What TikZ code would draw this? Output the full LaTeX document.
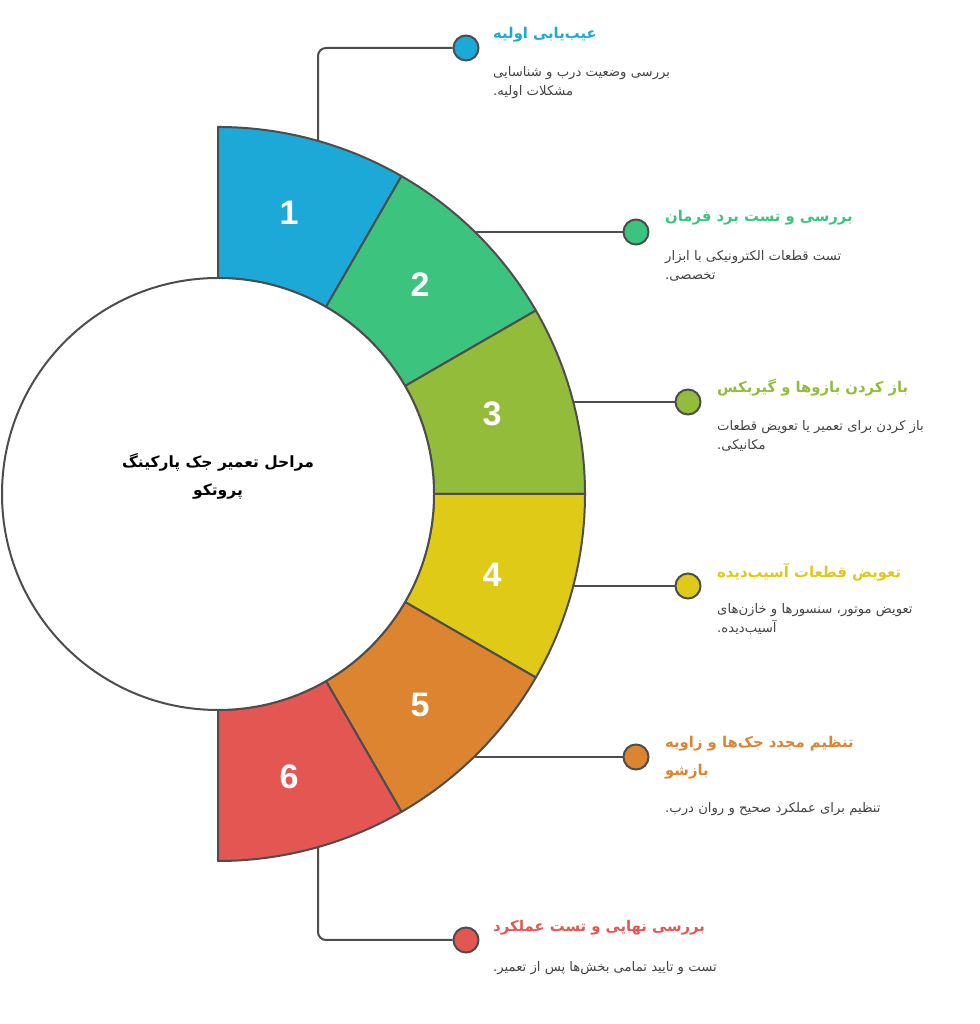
\documentclass[tikz,border=0pt]{standalone}
\usepackage{fontspec}
\setmainfont{Liberation Sans}
\newfontfamily\arabicfont[Script=Arabic]{DejaVu Sans}
\TeXXeTstate=1
\usetikzlibrary{calc}
\definecolor{cA}{HTML}{1DA9D8}
\definecolor{cB}{HTML}{3CC47F}
\definecolor{cC}{HTML}{93BC3B}
\definecolor{cD}{HTML}{DFCA17}
\definecolor{cE}{HTML}{DD8431}
\definecolor{cF}{HTML}{E35651}
\definecolor{edge}{HTML}{4D4D4D}
\definecolor{txt}{HTML}{444444}
\tikzset{
  seg/.style={draw=edge, line width=2pt, line join=round},
  num/.style={text=white, inner sep=0pt, font=\fontsize{34}{40}\selectfont\bfseries},
  conn/.style={draw=edge, line width=2pt},
  dot/.style={circle, draw=edge, line width=2pt, minimum size=25pt, inner sep=0pt},
  head/.style={anchor=west, align=left, inner sep=0pt, font=\arabicfont\bfseries\fontsize{14.8}{28}\selectfont},
  desc/.style={anchor=west, align=left, inner sep=0pt, text=txt, font=\arabicfont\fontsize{13.2}{19}\selectfont},
  ctitle/.style={align=center, inner sep=0pt, font=\arabicfont\bfseries\fontsize{15.5}{28}\selectfont}
}
\begin{document}
\begin{tikzpicture}[x=1pt,y=1pt]
\useasboundingbox (0,0) rectangle (979,1024);
\fill[white] (0,0) rectangle (979,1024);
\begin{scope}[shift={(218,530)}]
  \foreach \i/\col in {1/cA,2/cB,3/cC,4/cD,5/cE,6/cF}{
    \pgfmathsetmacro{\aa}{90-30*(\i-1)}
    \pgfmathsetmacro{\ab}{90-30*\i}
    \path[seg, fill=\col] (\aa:367) arc[start angle=\aa, end angle=\ab, radius=367]
      -- (\ab:216) arc[start angle=\ab, end angle=\aa, radius=216] -- cycle;
  }
  \node[circle, draw=edge, line width=2pt, fill=white, minimum size=432pt, inner sep=0pt] (hub) at (0,0) {};
\end{scope}
\node[num] (n1) at (289,811) {1};
\node[num] (n2) at (420,739) {2};
\node[num] (n3) at (492,610) {3};
\node[num] (n4) at (492,449) {4};
\node[num] (n5) at (420,319) {5};
\node[num] (n6) at (289,247) {6};
\node[ctitle] (title) at (218,548) {\beginR مراحل تعمیر جک پارکینگ\endR\\\beginR پروتکو\endR};
% connector start points on the outer arc
\coordinate (s1) at (318,883);
\coordinate (s2) at (475,792);
\coordinate (s3) at (573,622);
\coordinate (s4) at (573,438);
\coordinate (s5) at (475,267);
\coordinate (s6) at (318,177);
% dots
\node[dot, fill=cA] (d1) at (466,976) {};
\node[dot, fill=cB] (d2) at (636,792) {};
\node[dot, fill=cC] (d3) at (688,622) {};
\node[dot, fill=cD] (d4) at (688,438) {};
\node[dot, fill=cE] (d5) at (636,267) {};
\node[dot, fill=cF] (d6) at (466,84) {};
\draw[conn, rounded corners=8pt] (s1) |- (d1);
\draw[conn] (s2) -- (d2);
\draw[conn] (s3) -- (d3);
\draw[conn] (s4) -- (d4);
\draw[conn] (s5) -- (d5);
\draw[conn, rounded corners=8pt] (s6) |- (d6);
% texts
\node[head, text=cA] (h1) at (493,989) {\beginR عیب^^^^200cیابی اولیه\endR};
\node[desc] (t1) at (493,941.5) {\beginR بررسی وضعیت درب و شناسایی\endR\\\beginR مشکلات اولیه.\endR};
\node[head, text=cB] (h2) at (665,806) {\beginR بررسی و تست برد فرمان\endR};
\node[desc] (t2) at (665,758.5) {\beginR تست قطعات الکترونیکی با ابزار\endR\\\beginR تخصصی.\endR};
\node[head, text=cC] (h3) at (717,636) {\beginR باز کردن بازوها و گیربکس\endR};
\node[desc] (t3) at (717,588.5) {\beginR باز کردن برای تعمیر یا تعویض قطعات\endR\\\beginR مکانیکی.\endR};
\node[head, text=cD] (h4) at (717,452) {\beginR تعویض قطعات آسیب^^^^200cدیده\endR};
\node[desc] (t4) at (717,404.5) {\beginR تعویض موتور، سنسورها و خازن^^^^200cهای\endR\\\beginR آسیب^^^^200cدیده.\endR};
\node[head, text=cE] (h5) at (665,266) {\beginR تنظیم مجدد جک^^^^200cها و زاویه\endR\\\beginR بازشو\endR};
\node[desc] (t5) at (665,215) {\beginR تنظیم برای عملکرد صحیح و روان درب.\endR};
\node[head, text=cF] (h6) at (493,96) {\beginR بررسی نهایی و تست عملکرد\endR};
\node[desc] (t6) at (493,56) {\beginR تست و تایید تمامی بخش^^^^200cها پس از تعمیر.\endR};
\end{tikzpicture}
\end{document}
